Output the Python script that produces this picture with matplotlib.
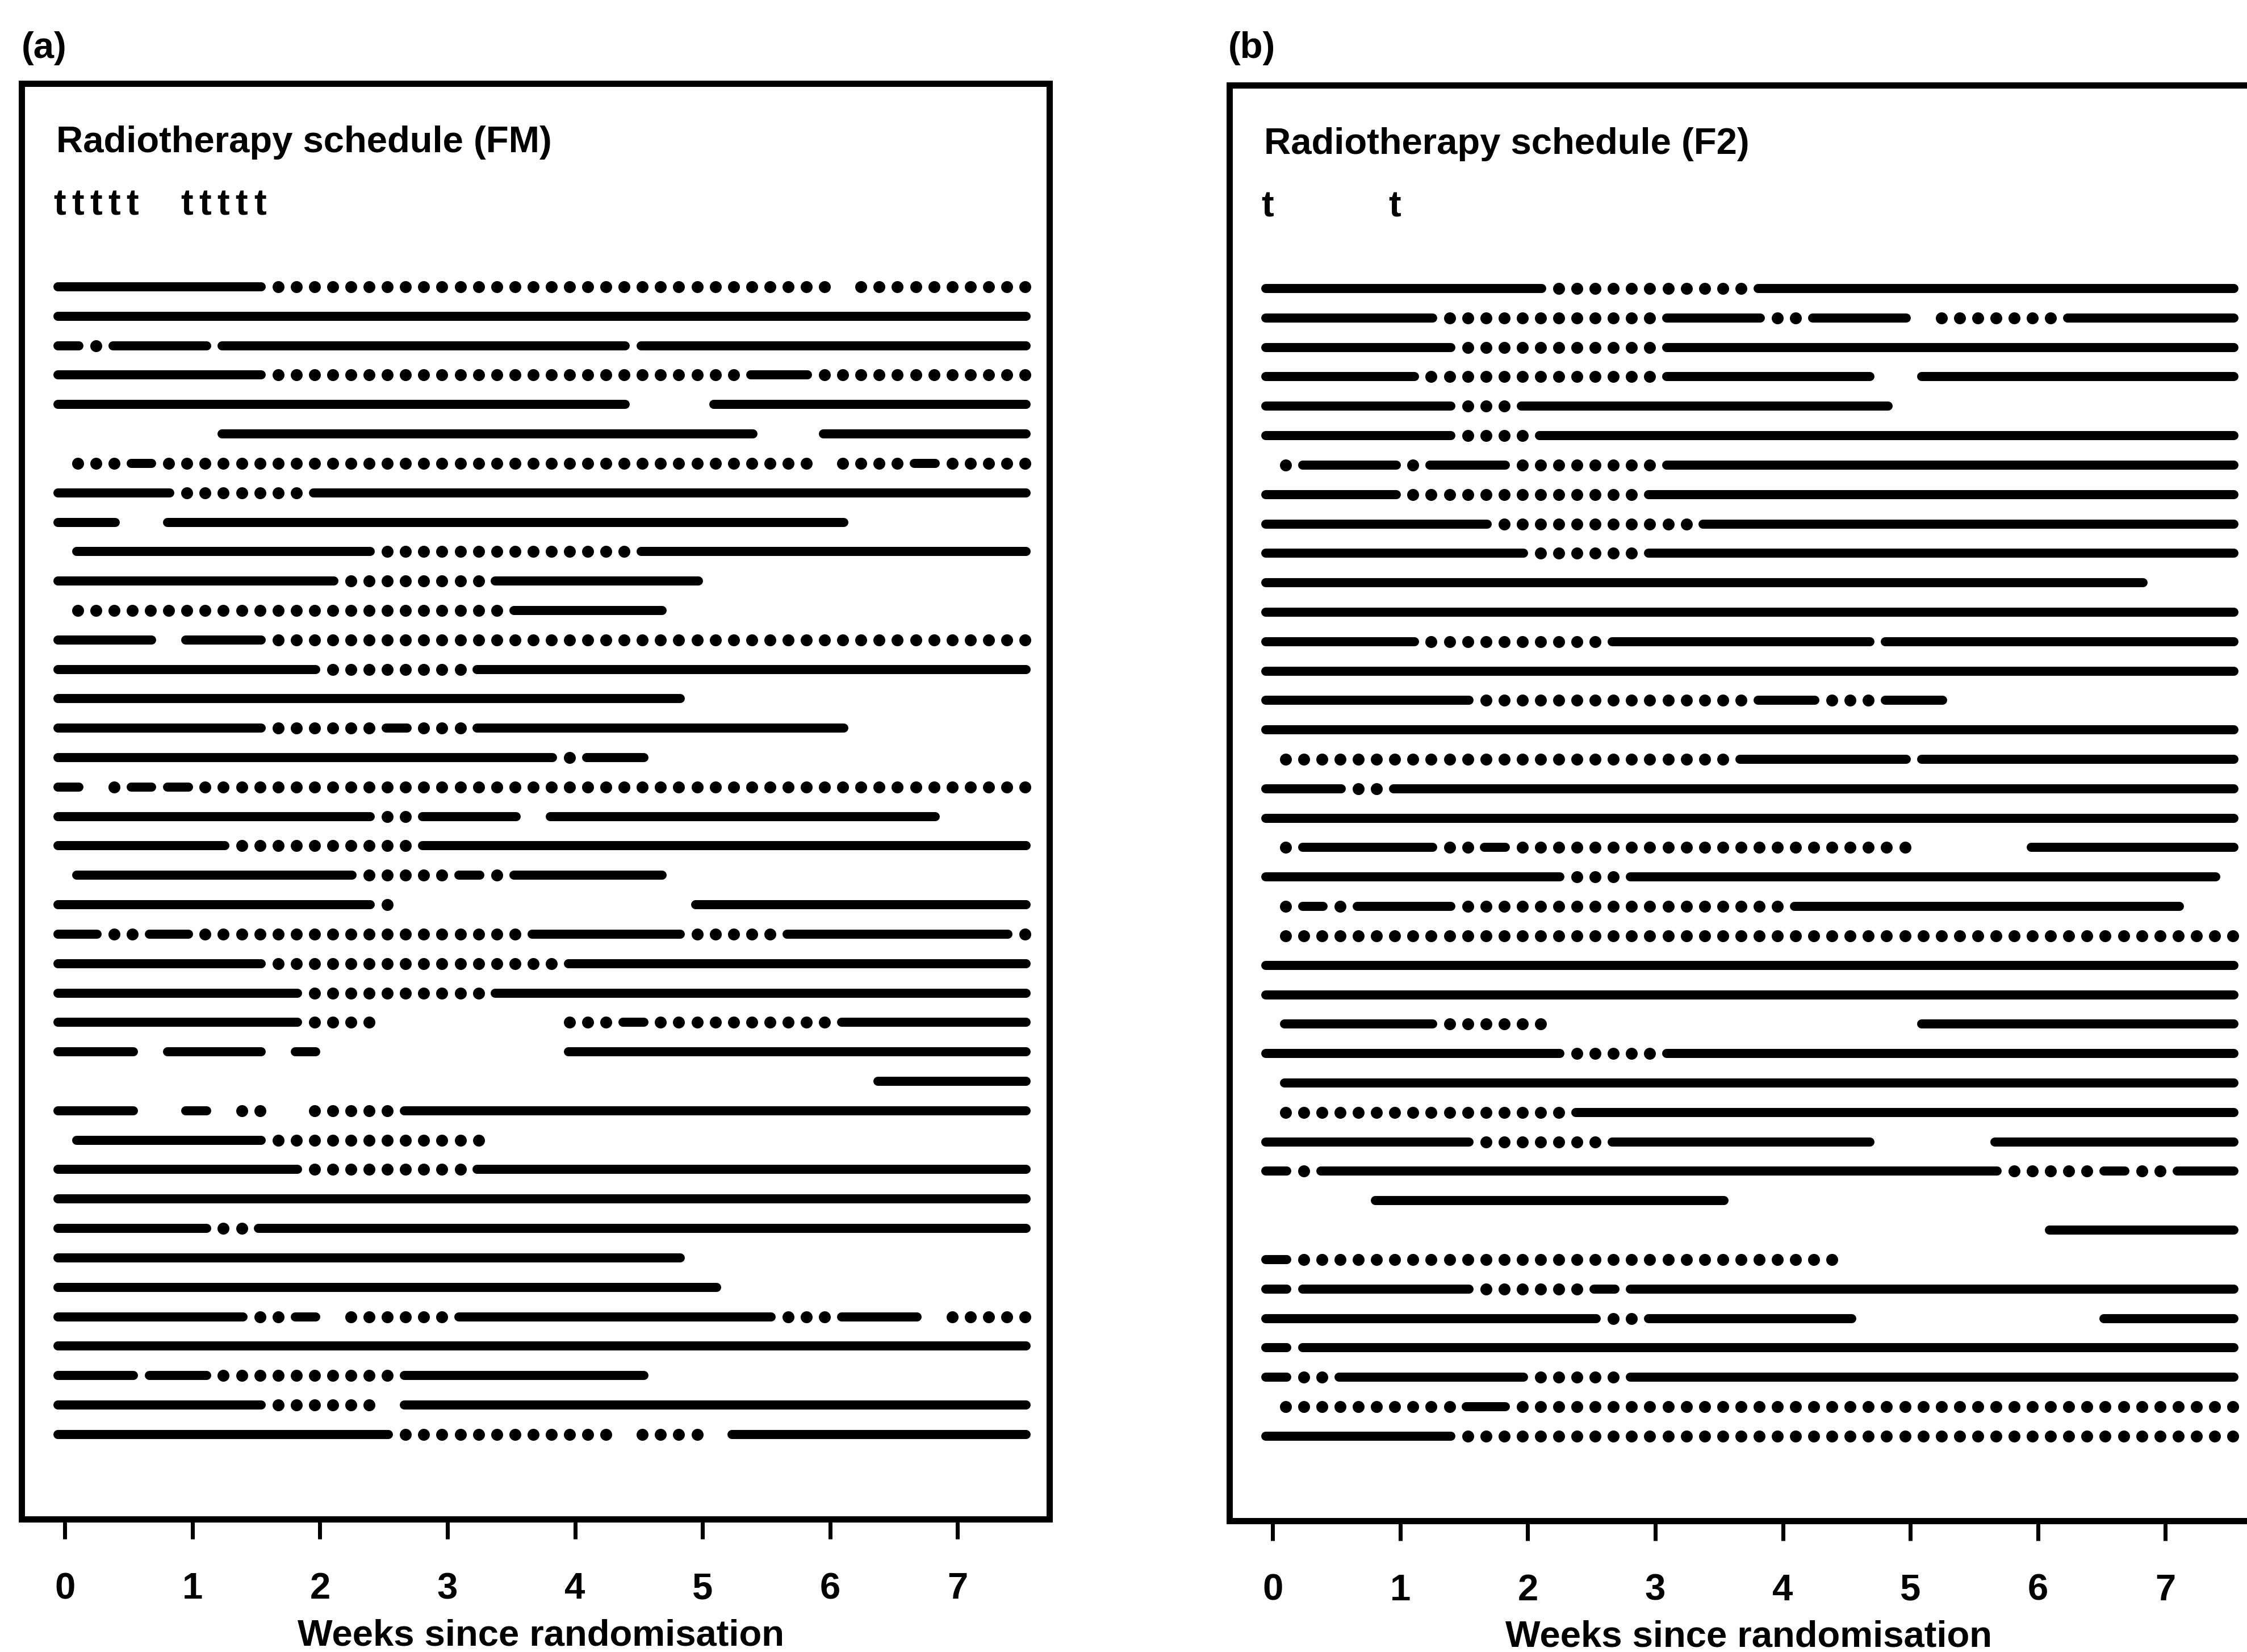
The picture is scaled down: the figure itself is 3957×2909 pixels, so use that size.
import numpy as np
import matplotlib
matplotlib.use("Agg")
from matplotlib import pyplot as plt
from matplotlib import font_manager

# Daily diary records, one row per patient, days counted from randomisation.
# Each entry is (first_day, last_day, kind): "-" drawn as a solid run, "." as daily dots.
fm_rows = [
    [(0, 11, "-"), (12, 42, "."), (44, 53, ".")],
    [(0, 53, "-")],
    [(0, 1, "-"), (2, 2, "."), (3, 8, "-"), (9, 31, "-"), (32, 53, "-")],
    [(0, 11, "-"), (12, 37, "."), (38, 41, "-"), (42, 53, ".")],
    [(0, 31, "-"), (36, 53, "-")],
    [(9, 38, "-"), (42, 53, "-")],
    [(1, 3, "."), (4, 5, "-"), (6, 41, "."), (43, 46, "."), (47, 48, "-"), (49, 53, ".")],
    [(0, 6, "-"), (7, 13, "."), (14, 53, "-")],
    [(0, 3, "-"), (6, 43, "-")],
    [(1, 17, "-"), (18, 31, "."), (32, 53, "-")],
    [(0, 15, "-"), (16, 23, "."), (24, 35, "-")],
    [(1, 24, "."), (25, 33, "-")],
    [(0, 5, "-"), (7, 11, "-"), (12, 53, ".")],
    [(0, 14, "-"), (15, 22, "."), (23, 53, "-")],
    [(0, 34, "-")],
    [(0, 11, "-"), (12, 17, "."), (18, 19, "-"), (20, 22, "."), (23, 43, "-")],
    [(0, 27, "-"), (28, 28, "."), (29, 32, "-")],
    [(0, 1, "-"), (3, 3, "."), (4, 5, "-"), (6, 7, "-"), (8, 53, ".")],
    [(0, 17, "-"), (18, 19, "."), (20, 25, "-"), (27, 48, "-")],
    [(0, 9, "-"), (10, 19, "."), (20, 53, "-")],
    [(1, 16, "-"), (17, 21, "."), (22, 23, "-"), (24, 24, "."), (25, 33, "-")],
    [(0, 17, "-"), (18, 18, "."), (35, 53, "-")],
    [(0, 2, "-"), (3, 4, "."), (5, 7, "-"), (8, 25, "."), (26, 34, "-"), (35, 39, "."), (40, 52, "-"), (53, 53, ".")],
    [(0, 11, "-"), (12, 27, "."), (28, 53, "-")],
    [(0, 13, "-"), (14, 23, "."), (24, 53, "-")],
    [(0, 13, "-"), (14, 17, "."), (28, 30, "."), (31, 32, "-"), (33, 42, "."), (43, 53, "-")],
    [(0, 4, "-"), (6, 11, "-"), (13, 14, "-"), (28, 53, "-")],
    [(45, 53, "-")],
    [(0, 4, "-"), (7, 8, "-"), (10, 11, "."), (14, 18, "."), (19, 53, "-")],
    [(1, 11, "-"), (12, 23, ".")],
    [(0, 13, "-"), (14, 22, "."), (23, 53, "-")],
    [(0, 53, "-")],
    [(0, 8, "-"), (9, 10, "."), (11, 53, "-")],
    [(0, 34, "-")],
    [(0, 36, "-")],
    [(0, 10, "-"), (11, 12, "."), (13, 14, "-"), (16, 21, "."), (22, 39, "-"), (40, 42, "."), (43, 47, "-"), (49, 53, ".")],
    [(0, 53, "-")],
    [(0, 4, "-"), (5, 8, "-"), (9, 18, "."), (19, 32, "-")],
    [(0, 11, "-"), (12, 17, "."), (19, 53, "-")],
    [(0, 18, "-"), (19, 30, "."), (32, 35, "."), (37, 53, "-")],
]

f2_rows = [
    [(0, 15, "-"), (16, 26, "."), (27, 53, "-")],
    [(0, 9, "-"), (10, 21, "."), (22, 27, "-"), (28, 29, "."), (30, 35, "-"), (37, 43, "."), (44, 53, "-")],
    [(0, 10, "-"), (11, 21, "."), (22, 53, "-")],
    [(0, 8, "-"), (9, 21, "."), (22, 33, "-"), (36, 53, "-")],
    [(0, 10, "-"), (11, 13, "."), (14, 34, "-")],
    [(0, 10, "-"), (11, 14, "."), (15, 53, "-")],
    [(1, 1, "."), (2, 7, "-"), (8, 8, "."), (9, 13, "-"), (14, 21, "."), (22, 53, "-")],
    [(0, 7, "-"), (8, 20, "."), (21, 53, "-")],
    [(0, 12, "-"), (13, 23, "."), (24, 53, "-")],
    [(0, 14, "-"), (15, 20, "."), (21, 53, "-")],
    [(0, 48, "-")],
    [(0, 53, "-")],
    [(0, 8, "-"), (9, 18, "."), (19, 33, "-"), (34, 53, "-")],
    [(0, 53, "-")],
    [(0, 11, "-"), (12, 26, "."), (27, 30, "-"), (31, 33, "."), (34, 37, "-")],
    [(0, 53, "-")],
    [(1, 25, "."), (26, 35, "-"), (36, 53, "-")],
    [(0, 4, "-"), (5, 6, "."), (7, 53, "-")],
    [(0, 53, "-")],
    [(1, 1, "."), (2, 9, "-"), (10, 11, "."), (12, 13, "-"), (14, 35, "."), (42, 53, "-")],
    [(0, 16, "-"), (17, 19, "."), (20, 52, "-")],
    [(1, 1, "."), (2, 3, "-"), (4, 4, "."), (5, 10, "-"), (11, 28, "."), (29, 50, "-")],
    [(1, 53, ".")],
    [(0, 53, "-")],
    [(0, 53, "-")],
    [(1, 9, "-"), (10, 15, "."), (36, 53, "-")],
    [(0, 16, "-"), (17, 21, "."), (22, 53, "-")],
    [(1, 53, "-")],
    [(1, 16, "."), (17, 53, "-")],
    [(0, 11, "-"), (12, 18, "."), (19, 33, "-"), (40, 53, "-")],
    [(0, 1, "-"), (2, 2, "."), (3, 40, "-"), (41, 45, "."), (46, 47, "-"), (48, 49, "."), (50, 53, "-")],
    [(6, 25, "-")],
    [(43, 53, "-")],
    [(0, 1, "-"), (2, 31, ".")],
    [(0, 1, "-"), (2, 11, "-"), (12, 17, "."), (18, 19, "-"), (20, 53, "-")],
    [(0, 18, "-"), (19, 20, "."), (21, 32, "-"), (46, 53, "-")],
    [(0, 1, "-"), (2, 53, "-")],
    [(0, 1, "-"), (2, 3, "."), (4, 14, "-"), (15, 19, "."), (20, 53, "-")],
    [(1, 10, "."), (11, 13, "-"), (14, 53, ".")],
    [(0, 10, "-"), (11, 53, ".")],
]

# treatment days ("t") for each schedule
fm_treatment_days = [0, 1, 2, 3, 4, 7, 8, 9, 10, 11]
f2_treatment_days = [0, 7]

week_ticks = [0, 1, 2, 3, 4, 5, 6, 7]
panel_labels = ["(a)", "(b)"]
panel_titles = ["Radiotherapy schedule (FM)", "Radiotherapy schedule (F2)"]
x_label = "Weeks since randomisation"

DPI = 100
W, H = 3957, 2909
DAY_OFFSET = 0.3   # day grid sits slightly left of the week ticks
CAP = 0.07         # extra reach of a solid run past the first/last day


def px(n):
    # pixels -> points at the figure dpi
    return n * 72 / DPI


names = {f.name for f in font_manager.fontManager.ttflist}
if "Liberation Sans Narrow" in names:
    family, fs = "Liberation Sans Narrow", 55
else:
    family, fs = "Liberation Sans", 47
plt.rcParams["font.family"] = [family, "DejaVu Sans"]
plt.rcParams["font.weight"] = "bold"


def day_to_week(d):
    return (np.asarray(d, dtype=float) - DAY_OFFSET) / 7


def draw_panel(ax, rows, title, treat_days):
    for i, row in enumerate(rows):
        for start, end, kind in row:
            if kind == "-":
                ax.plot(day_to_week([start - CAP, end + CAP]), [i, i], color="black",
                        lw=px(16), solid_capstyle="round")
            else:
                days = np.arange(start, end + 1)
                ax.plot(day_to_week(days), np.full(len(days), i), ls="none", marker="o",
                        ms=px(21), mec="none", color="black")

    ax.text(-0.07, -4.57, title, ha="left", va="baseline", fontsize=fs, fontweight="bold")
    for d in treat_days:
        ax.text(day_to_week(d), -2.45, "t", ha="center", va="baseline", fontsize=fs, fontweight="bold")

    ax.set_xlim(-0.34, 7.72)
    ax.set_ylim(41.88, -6.91)
    ax.set_yticks([])
    ax.set_xticks(week_ticks)
    ax.set_xticklabels([str(w) for w in week_ticks], fontsize=fs, fontweight="bold")
    ax.tick_params(axis="x", length=px(35), width=px(7), pad=px(58), color="black")
    for s in ax.spines.values():
        s.set_linewidth(px(11))
    ax.set_xlabel(x_label, fontsize=fs, fontweight="bold")
    ax.xaxis.label.set_va("baseline")
    ax.xaxis.set_label_coords(0.505, -(2897 - 2675) / 2528)


fig = plt.figure(figsize=(W / DPI, H / DPI), dpi=DPI)
ax_a = fig.add_axes([38 / W, 1 - 2675 / H, 1810 / W, 2528 / H])
ax_b = fig.add_axes([2165 / W, 1 - 2678 / H, 1810 / W, 2528 / H])

draw_panel(ax_a, fm_rows, panel_titles[0], fm_treatment_days)
draw_panel(ax_b, f2_rows, panel_titles[1], f2_treatment_days)

fig.text(38 / W, 1 - 102 / H, panel_labels[0], ha="left", va="baseline", fontsize=fs, fontweight="bold")
fig.text(2163 / W, 1 - 102 / H, panel_labels[1], ha="left", va="baseline", fontsize=fs, fontweight="bold")

fig.savefig("out.png", dpi=DPI, facecolor="white")
